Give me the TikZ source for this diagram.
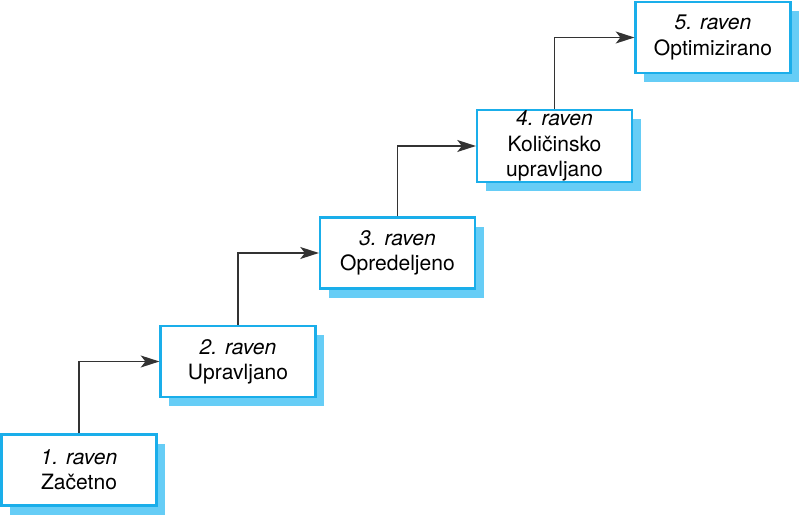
\documentclass[tikz,border=0pt]{standalone}
\usepackage{fontspec}
\setmainfont{TeX Gyre Heros}
\usetikzlibrary{arrows.meta,shadows}
\definecolor{boxblue}{HTML}{1AAEEA}
\definecolor{shadowblue}{HTML}{66CDF6}
\definecolor{arrgray}{HTML}{333333}
\tikzset{
  level/.style={draw=boxblue, line width=1.9pt, fill=white,
    minimum width=116pt, minimum height=53pt, inner sep=0pt,
    align=center, font=\fontsize{15.8pt}{19pt}\selectfont,
    general shadow={fill=shadowblue, draw=none, shadow xshift=6.5pt, shadow yshift=-7pt}},
  arr/.style={draw=arrgray, line width=1pt, -{Stealth[length=14pt,width=9pt,inset=3.5pt]}}
}
\begin{document}
\begin{tikzpicture}[x=0.75pt,y=-0.75pt]
\useasboundingbox (0,0) rectangle (800,516);
\node[level] (b1) at (79,470) {\textit{1. raven}\\Začetno};
\node[level] (b2) at (238,361.5) {\textit{2. raven}\\Upravljano};
\node[level] (b3) at (397.5,253) {\textit{3. raven}\\Opredeljeno};
\node[level, minimum height=54pt] (b4) at (554.5,146) {\textit{4. raven}\\Količinsko\\upravljano};
\node[level] (b5) at (713,37.5) {\textit{5. raven}\\Optimizirano};
\draw[arr] (b1.north) |- (b2.west);
\draw[arr] (b2.north) |- (b3.west);
\draw[arr] (b3.north) |- (b4.west);
\draw[arr] (b4.north) |- (b5.west);
\end{tikzpicture}
\end{document}
